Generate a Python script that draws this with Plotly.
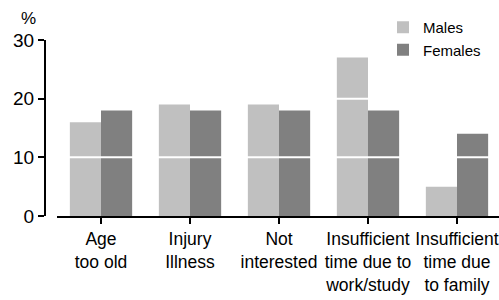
import plotly.graph_objects as go

categories = ["Age<br>too old", "Injury<br>Illness", "Not<br>interested",
              "Insufficient<br>time due to<br>work/study", "Insufficient<br>time due<br>to family"]
males = [16, 19, 19, 27, 5]
females = [18, 18, 18, 18, 14]
y_ticks = [0, 10, 20, 30]

FONT = "Liberation Sans"

fig = go.Figure()
fig.add_trace(go.Bar(name="Males", x=categories, y=males, marker=dict(color="#c0c0c0", line=dict(width=0))))
fig.add_trace(go.Bar(name="Females", x=categories, y=females, marker=dict(color="#808080", line=dict(width=0))))

for g in [10, 20]:
    fig.add_shape(type="line", xref="x domain", x0=0, x1=1, yref="y", y0=g, y1=g,
                  line=dict(color="white", width=2), layer="above")

fig.update_layout(
    width=499, height=300,
    margin=dict(l=45, r=0, t=40, b=84, autoexpand=False),
    paper_bgcolor="white", plot_bgcolor="white",
    barmode="group", bargap=0.30, bargroupgap=0,
    font=dict(family=FONT, color="#000000"),
    showlegend=True,
    xaxis=dict(
        domain=[11.5 / 454, 1], range=[-0.5, 4.472], automargin=False,
        showline=True, linecolor="black", linewidth=2,
        ticks="outside", ticklen=6, tickcolor="black", tickwidth=1.5,
        tickfont=dict(size=17.5, family=FONT, color="#000000"),
        showgrid=False, zeroline=False, fixedrange=True,
    ),
    yaxis=dict(
        anchor="free", position=0, range=[0, 30], automargin=False,
        tickvals=y_ticks, ticktext=[str(v) for v in y_ticks],
        showline=True, linecolor="black", linewidth=2,
        ticks="outside", ticklen=6, tickcolor="black", tickwidth=1.5,
        tickfont=dict(size=19, family=FONT, color="#000000"),
        showgrid=False, zeroline=False, fixedrange=True,
    ),
)
fig.update_layout(legend=dict(x=(383 - 45) / 454, y=(216 - 11) / 176, xanchor="left", yanchor="top",
                              xref="paper", yref="paper",
                              font=dict(size=15, family=FONT, color="#000000"),
                              bgcolor="rgba(0,0,0,0)", tracegroupgap=0, itemwidth=30))

fig.add_annotation(text="%", xref="paper", yref="paper", x=(28 - 45) / 454, y=(216 - 19) / 176,
                   showarrow=False, font=dict(size=17, family=FONT, color="#000000"),
                   xanchor="center", yanchor="middle")

fig.write_html("out.html", config={"displayModeBar": False},
               post_script="document.body.style.margin='0';document.body.style.overflow='hidden';")
